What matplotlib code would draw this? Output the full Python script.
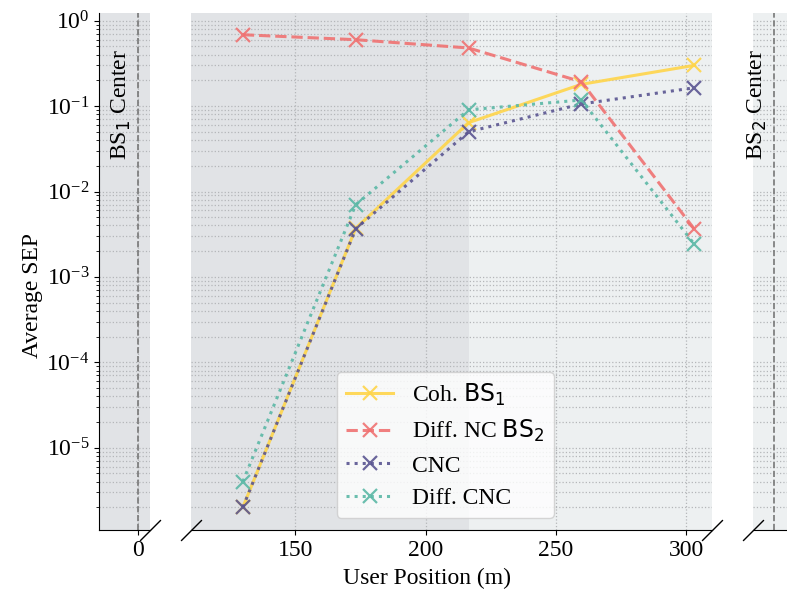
import matplotlib.pyplot as plt

plt.rcParams['font.family'] = ['Liberation Serif', 'DejaVu Sans']
plt.rcParams['font.size'] = 17

# user positions (m), BS2 sits at 250*sqrt(3)
bs1_pos = 0.0
bs2_pos = 433.0
positions = [129.9, 173.2, 216.5, 259.8, 303.1]

coh_bs1 = [2.0e-6, 3.7e-3, 0.064, 0.18, 0.30]
diff_nc_bs2 = [0.686, 0.60, 0.48, 0.193, 3.65e-3]
cnc = [2.0e-6, 3.65e-3, 0.050, 0.106, 0.164]
diff_cnc = [4.0e-6, 7.0e-3, 0.0905, 0.118, 2.43e-3]

series = [
    (coh_bs1, 'Coh. $\\mathrm{BS}_1$', '#FFD54A', '-'),
    (diff_nc_bs2, 'Diff. NC $\\mathrm{BS}_2$', '#F07272', '--'),
    (cnc, 'CNC', '#5A5591', ':'),
    (diff_cnc, 'Diff. CNC', '#5BB8A6', ':'),
]

dark_bg = '#E1E3E6'
light_bg = '#EDF0F1'

fig = plt.figure(figsize=(7.87, 5.92), dpi=100)
bot, h = 0.1047, 0.8738
ax1 = fig.add_axes([0.1258, bot, 0.0648, h])
ax2 = fig.add_axes([0.2427, bot, 0.6622, h], sharey=ax1)
ax3 = fig.add_axes([0.9565, bot, 0.0435, h], sharey=ax1)

ax1.set_xlim(-15, 4.5)
ax2.set_xlim(110, 310)
ax3.set_xlim(425, 438)
ax1.set_yscale('log')
ax1.set_ylim(10 ** -5.965, 10 ** 0.094)

ax1.set_facecolor(dark_bg)
ax3.set_facecolor(light_bg)
ax2.set_facecolor(light_bg)
ax2.axvspan(110, (bs1_pos + bs2_pos) / 2, color=dark_bg, zorder=0, lw=0)

for vals, label, color, ls in series:
    ax2.plot(positions, vals, ls, color=color, marker='x', markersize=10,
             mew=1.6, lw=2.2, alpha=0.9, label=label)

for ax in (ax1, ax2, ax3):
    ax.grid(True, which='major', ls=':', color='#B4B6B9', lw=0.9)
    ax.grid(True, which='minor', axis='y', ls=':', color='#B4B6B9', lw=0.9)
    ax.spines['top'].set_visible(False)
    ax.spines['right'].set_visible(False)
    ax.set_axisbelow(True)

for ax in (ax2, ax3):
    ax.spines['left'].set_visible(False)
    ax.tick_params(axis='y', which='both', left=False, labelleft=False)

ax1.set_xticks([0])
ax2.set_xticks([150, 200, 250, 300])
ax3.set_xticks([])
ax3.tick_params(axis='x', bottom=False)

for ax, xc, name in ((ax1, bs1_pos, 'BS$_1$ Center'), (ax3, bs2_pos, 'BS$_2$ Center')):
    ax.axvline(xc, color='#777777', ls='--', lw=1.2)
    ax.text(xc - 6.3, 0.93, name, rotation=90, ha='center', va='top',
            transform=ax.get_xaxis_transform())

# broken-axis slashes
kw = dict(marker=[(-1, -1), (1, 1)], markersize=15, linestyle='none',
          color='k', mec='k', mew=1, clip_on=False)
ax1.plot([1], [0], transform=ax1.transAxes, **kw)
ax2.plot([0, 1], [0, 0], transform=ax2.transAxes, **kw)
ax3.plot([0], [0], transform=ax3.transAxes, **kw)

ax2.legend(loc='lower center', bbox_to_anchor=(0.488, 0.0), fontsize=17,
           labelspacing=0.45, handlelength=2.0, framealpha=0.8)

fig.text(0.0407, 0.5, 'Average SEP', rotation=90, ha='center', va='center')
fig.text(0.5426, 0.0236, 'User Position (m)', ha='center', va='center')

fig.savefig('out.png', dpi=100)
